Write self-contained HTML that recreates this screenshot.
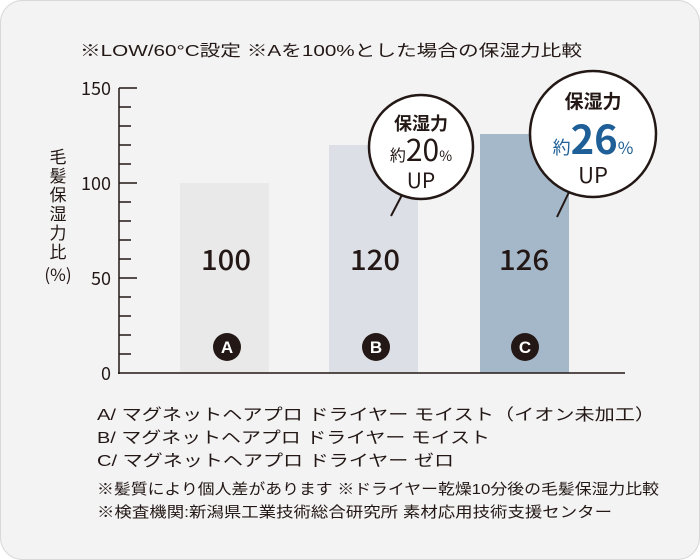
<!DOCTYPE html>
<html><head><meta charset="utf-8"><style>
html,body{margin:0;padding:0;background:#fff;}
svg{display:block;font-family:"Liberation Sans","Noto Sans CJK JP",sans-serif;}
.n{font-family:"Noto Sans CJK JP","Liberation Sans",sans-serif;}
</style></head><body>
<svg width="700" height="560" viewBox="0 0 700 560">
<rect x="0.5" y="0.5" width="699" height="559" rx="22" fill="#f3f3f3" stroke="#d8d8d8"/>
<text x="80" y="56" font-size="16" fill="#231815" textLength="502" lengthAdjust="spacingAndGlyphs">※LOW/60°C設定  ※Aを100%とした場合の保湿力比較</text>
<rect x="180" y="183" width="89" height="190" fill="#e8e9e8"/>
<rect x="329" y="145" width="89" height="228" fill="#dcdfe5"/>
<rect x="480" y="134" width="89" height="239" fill="#a5b8c9"/>
<g class="n" font-size="28" fill="#231815" text-anchor="middle" font-weight="500">
<text x="226" y="270" textLength="50" lengthAdjust="spacingAndGlyphs">100</text><text x="375" y="270" textLength="50" lengthAdjust="spacingAndGlyphs">120</text><text x="524" y="270" textLength="50" lengthAdjust="spacingAndGlyphs">126</text>
</g>
<g fill="#231815"><circle cx="227" cy="347" r="14"/><circle cx="376" cy="347" r="14"/><circle cx="525" cy="347" r="14"/></g>
<g fill="#fff" font-size="17" font-weight="bold" text-anchor="middle">
<text x="227" y="353">A</text><text x="376" y="353">B</text><text x="525" y="353">C</text></g>
<g stroke="#231815" stroke-width="1.5">
<line x1="119" y1="88" x2="119" y2="374"/>
<line x1="118" y1="373" x2="625" y2="373"/>
<line x1="119" y1="88" x2="137" y2="88"/>
<line x1="119" y1="183" x2="137" y2="183"/>
<line x1="119" y1="278" x2="137" y2="278"/>
<path d="M119 107h12M119 126h12M119 145h12M119 164h12M119 202h12M119 221h12M119 240h12M119 259h12M119 297h12M119 316h12M119 335h12M119 354h12"/>
</g>
<g class="n" font-size="18" fill="#231815" text-anchor="end">
<text x="111" y="95">150</text><text x="111" y="190">100</text><text x="111" y="285">50</text><text x="111" y="380">0</text></g>
<g class="n" font-size="17" fill="#231815" text-anchor="middle">
<text x="58" y="163">毛</text><text x="58" y="182">髪</text><text x="58" y="201">保</text><text x="58" y="220">湿</text><text x="58" y="239">力</text><text x="58" y="258">比</text><text x="58" y="281">(%)</text></g>
<line x1="403" y1="193" x2="391" y2="216" stroke="#231815" stroke-width="2"/>
<circle cx="421" cy="147" r="52" fill="#fff" stroke="#231815" stroke-width="2.5"/>
<line x1="571" y1="188" x2="557" y2="217" stroke="#231815" stroke-width="2"/>
<circle cx="593" cy="134" r="63" fill="#fff" stroke="#231815" stroke-width="2.5"/>
<g class="n" fill="#231815" text-anchor="middle">
<text x="421" y="130" font-size="18" font-weight="bold">保湿力</text>
<text x="421" y="161"><tspan font-size="16">約</tspan><tspan font-size="30">20</tspan><tspan font-size="14">%</tspan></text>
<text x="421" y="188" font-size="21">UP</text>
<text x="593" y="108" font-size="19" font-weight="bold">保湿力</text>
<text x="593" y="154" fill="#1d5f96"><tspan font-size="18">約</tspan><tspan font-size="40" font-weight="bold">26</tspan><tspan font-size="17">%</tspan></text>
<text x="593" y="183" font-size="22">UP</text>
</g>
<g font-size="16" fill="#231815">
<text x="97" y="420" textLength="558" lengthAdjust="spacingAndGlyphs">A/ マグネットヘアプロ ドライヤー モイスト（イオン未加工）</text>
<text x="97" y="443" textLength="393" lengthAdjust="spacingAndGlyphs">B/ マグネットヘアプロ ドライヤー モイスト</text>
<text x="97" y="466" textLength="357" lengthAdjust="spacingAndGlyphs">C/ マグネットヘアプロ ドライヤー ゼロ</text>
</g>
<g font-size="15" fill="#231815">
<text x="97" y="494" textLength="562" lengthAdjust="spacingAndGlyphs">※髪質により個人差があります ※ドライヤー乾燥10分後の毛髪保湿力比較</text>
<text x="97" y="517" textLength="515" lengthAdjust="spacingAndGlyphs">※検査機関:新潟県工業技術総合研究所 素材応用技術支援センター</text>
</g>
</svg>
</body></html>
